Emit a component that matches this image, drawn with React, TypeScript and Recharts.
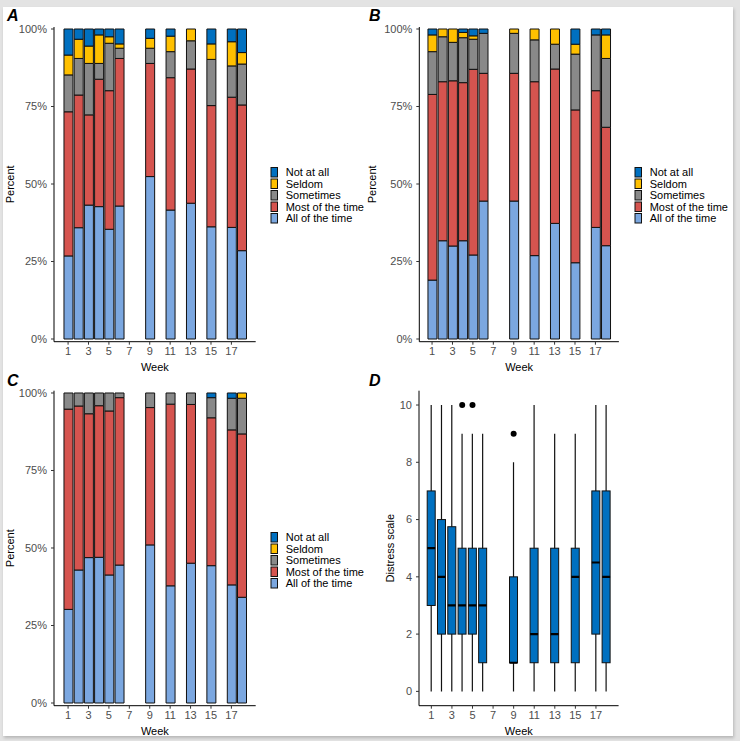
import React from 'react';
import { BarChart, ComposedChart, Bar, Scatter, XAxis, YAxis } from 'recharts';

const weeks = [1, 2, 3, 4, 5, 6, 9, 11, 13, 15, 17, 18];
const weekTicks = [1, 3, 5, 7, 9, 11, 13, 15, 17];
const percentTicks = [0, 25, 50, 75, 100];
const distressTicks = [0, 2, 4, 6, 8, 10];

// legend order (top to bottom) is the reverse of the stack order
const categories = ['All of the time', 'Most of the time', 'Sometimes', 'Seldom', 'Not at all'];
const categoryKeys = ['all', 'most', 'some', 'seldom', 'notAtAll'];
const categoryColors = ['#7BA7E0', '#D5544F', '#898989', '#FFC000', '#0070C0'];

// panel A
const aAll = [26.8, 35.9, 43.2, 42.7, 35.4, 42.9, 52.4, 41.6, 43.8, 36.2, 36.0, 28.5];
const aMost = [46.5, 42.8, 29.1, 41.1, 44.7, 47.6, 36.5, 42.7, 43.3, 39.1, 42.0, 47.0];
const aSome = [11.9, 11.8, 16.6, 5.1, 15.3, 3.3, 4.9, 8.4, 9.1, 14.9, 10.1, 13.2];
const aSeldom = [6.4, 6.2, 5.6, 9.2, 2.1, 1.4, 3.2, 5.0, 3.8, 5.0, 7.8, 3.7];
const aNot = [8.4, 3.3, 5.5, 1.9, 2.5, 4.8, 3.0, 2.3, 0, 4.8, 4.1, 7.6];

// panel B
const bAll = [19.0, 31.7, 30.0, 31.7, 27.1, 44.5, 44.5, 26.9, 37.3, 24.6, 36.0, 30.1];
const bMost = [59.9, 51.3, 53.3, 51.0, 59.9, 41.2, 41.2, 56.1, 49.8, 49.3, 44.1, 38.2];
const bSome = [13.8, 14.5, 12.4, 14.5, 9.7, 12.9, 12.9, 13.5, 8.0, 18.0, 18.0, 22.2];
const bSeldom = [5.4, 2.5, 4.3, 1.7, 1.1, 0, 1.4, 3.5, 4.9, 3.2, 0, 7.6];
const bNot = [1.9, 0, 0, 1.1, 2.2, 1.4, 0, 0, 0, 4.9, 1.9, 1.9];

// panel C
const cAll = [30.2, 42.9, 46.9, 47.0, 41.3, 44.5, 51.0, 37.8, 45.1, 44.3, 38.1, 34.1];
const cMost = [64.6, 52.9, 46.4, 48.9, 52.9, 54.0, 44.3, 58.6, 51.2, 47.7, 50.0, 52.7];
const cSome = [5.2, 4.2, 6.7, 4.1, 5.8, 1.5, 4.7, 3.6, 3.7, 6.5, 10.2, 11.5];
const cSeldom = [0, 0, 0, 0, 0, 0, 0, 0, 0, 0, 0, 1.7];
const cNot = [0, 0, 0, 0, 0, 0, 0, 0, 0, 1.5, 1.7, 0];

// panel D (distress scale box plots)
const dMin = [0, 0, 0, 0, 0, 0, 0, 0, 0, 0, 0, 0];
const dQ1 = [3, 2, 2, 2, 2, 1, 1, 1, 1, 1, 2, 1];
const dMedian = [5, 4, 3, 3, 3, 3, 1, 2, 2, 4, 4.5, 4];
const dQ3 = [7, 6, 5.75, 5, 5, 5, 4, 5, 5, 5, 7, 7];
const dMax = [10, 10, 10, 9, 9, 9, 8, 10, 9, 9, 10, 10];
const outlierWeeks = [4, 5, 9];
const outlierValues = [10, 10, 9];

const FONT = '"Liberation Sans", Arial, sans-serif';
const TICK = { fill: '#4D4D4D', fontSize: 11 };

const buildRows = (series: number[][]) =>
  weeks.map((week, i) => {
    const row: Record<string, number> = { week };
    categoryKeys.forEach((k, j) => {
      row[k] = series[j][i];
    });
    return row;
  });

const rowsA = buildRows([aAll, aMost, aSome, aSeldom, aNot]);
const rowsB = buildRows([bAll, bMost, bSome, bSeldom, bNot]);
const rowsC = buildRows([cAll, cMost, cSome, cSeldom, cNot]);

const boxRows = weeks.map((week, i) => ({
  week,
  range: [dMin[i], dMax[i]],
  q1: dQ1[i],
  median: dMedian[i],
  q3: dQ3[i],
}));
const outliers = outlierWeeks.map((week, i) => ({ week, value: outlierValues[i] }));

// rotated y axis title, centred on the plot height
const yTitle = (text: string, x: number) => (props: any) => {
  const vb = props.viewBox;
  const cy = vb.y + vb.height / 2;
  return (
    <text
      x={x}
      y={cy}
      transform={`rotate(-90 ${x} ${cy})`}
      textAnchor="middle"
      dominantBaseline="central"
      fontSize={11}
      fill="#000"
    >
      {text}
    </text>
  );
};

const StackedPanel = (props: {
  rows: Record<string, number>[];
  left: number;
  top: number;
  width: number;
  height: number;
  marginTop: number;
  marginRight: number;
  yAxisWidth: number;
  xAxisHeight: number;
  xDomain: number[];
  yDomain: number[];
  titleX: number;
  weekOffset: number;
}) => (
  <div style={{ position: 'absolute', left: props.left, top: props.top }}>
    <BarChart
      width={props.width}
      height={props.height}
      data={props.rows}
      margin={{ top: props.marginTop, right: props.marginRight, bottom: 0, left: 0 }}
    >
      <XAxis
        type="number"
        dataKey="week"
        domain={props.xDomain}
        ticks={weekTicks}
        interval={0}
        allowDataOverflow
        height={props.xAxisHeight}
        tick={TICK}
        tickSize={3}
        tickLine={{ stroke: '#333' }}
        axisLine={{ stroke: '#000' }}
        label={{ value: 'Week', position: 'insideBottom', offset: props.weekOffset, fill: '#000', fontSize: 11 }}
      />
      <YAxis
        type="number"
        domain={props.yDomain}
        ticks={percentTicks}
        allowDataOverflow
        width={props.yAxisWidth}
        tick={TICK}
        tickSize={3}
        tickMargin={4}
        tickLine={{ stroke: '#333' }}
        axisLine={{ stroke: '#000' }}
        tickFormatter={(v: number) => `${v}%`}
        label={{ content: yTitle('Percent', props.titleX) }}
      />
      {categoryKeys.map((k, j) => (
        <Bar
          key={k}
          dataKey={k}
          name={categories[j]}
          stackId="a"
          barSize={9}
          fill={categoryColors[j]}
          stroke="#111"
          strokeWidth={1}
          isAnimationActive={false}
        />
      ))}
    </BarChart>
  </div>
);

const LegendBox = ({ left, top }: { left: number; top: number }) => (
  <svg style={{ position: 'absolute', left, top }} width={110} height={62}>
    {categories
      .slice()
      .reverse()
      .map((name, i) => {
        const color = categoryColors[categories.length - 1 - i];
        return (
          <g key={name}>
            <rect x={1} y={i * 11.5 + 1.5} width={6.5} height={9.5} fill={color} stroke="#111" strokeWidth={1} />
            <text x={15.7} y={i * 11.5 + 6.3} dominantBaseline="central" fontSize={11} fill="#000">
              {name}
            </text>
          </g>
        );
      })}
  </svg>
);

const BoxShape = (props: any) => {
  const { x, y, width, height, payload } = props;
  const lo = payload.range[0];
  const hi = payload.range[1];
  const toPx = (v: number) => y + (height * (hi - v)) / (hi - lo);
  const cx = x + width / 2;
  const top = toPx(payload.q3);
  const bottom = toPx(payload.q1);
  const med = toPx(payload.median);
  return (
    <g>
      <line x1={cx} x2={cx} y1={y} y2={y + height} stroke="#111" strokeWidth={1.2} />
      <rect x={x} y={top} width={width} height={bottom - top} fill="#0070C0" stroke="#111" strokeWidth={1} />
      <line x1={x} x2={x + width} y1={med} y2={med} stroke="#000" strokeWidth={2.2} />
    </g>
  );
};

const panelLabel = (text: string, left: number, top: number) => (
  <div
    style={{
      position: 'absolute',
      left,
      top,
      fontSize: 16,
      fontWeight: 'bold',
      fontStyle: 'italic',
      lineHeight: '16px',
      color: '#000',
    }}
  >
    {text}
  </div>
);

export default function App() {
  return (
    <div
      style={{
        position: 'absolute',
        left: 0,
        top: 0,
        width: 740,
        height: 741,
        background: '#e3e3e3',
        overflow: 'hidden',
        fontFamily: FONT,
      }}
    >
      <div
        style={{
          position: 'absolute',
          left: 3,
          top: 7,
          width: 730,
          height: 729,
          background: '#fff',
          boxShadow: '1px 2px 3px rgba(0,0,0,0.2)',
        }}
      />

      <StackedPanel
        rows={rowsA}
        left={0}
        top={0}
        width={362}
        height={375}
        marginTop={27}
        marginRight={106.3}
        yAxisWidth={54}
        xAxisHeight={33.3}
        xDomain={[-0.38, 19.38]}
        yDomain={[-0.87, 100.65]}
        titleX={10.5}
        weekOffset={4}
      />
      <StackedPanel
        rows={rowsB}
        left={362}
        top={0}
        width={378}
        height={375}
        marginTop={27}
        marginRight={121.1}
        yAxisWidth={57.3}
        xAxisHeight={33.3}
        xDomain={[-0.25, 19.3]}
        yDomain={[-0.87, 100.65]}
        titleX={10.5}
        weekOffset={4}
      />
      <StackedPanel
        rows={rowsC}
        left={0}
        top={375}
        width={362}
        height={366}
        marginTop={15.7}
        marginRight={106.3}
        yAxisWidth={54}
        xAxisHeight={35.3}
        xDomain={[-0.38, 19.38]}
        yDomain={[-0.87, 100.74]}
        titleX={10.5}
        weekOffset={6}
      />

      <div style={{ position: 'absolute', left: 368, top: 375 }}>
        <ComposedChart
          width={372}
          height={366}
          data={boxRows}
          margin={{ top: 15.7, right: 121.4, bottom: 0, left: 0 }}
        >
          <XAxis
            type="number"
            dataKey="week"
            domain={[-0.2, 19.2]}
            ticks={weekTicks}
            interval={0}
            allowDataOverflow
            height={35.3}
            tick={TICK}
            tickSize={3}
            tickLine={{ stroke: '#333' }}
            axisLine={{ stroke: '#000' }}
            label={{ value: 'Week', position: 'insideBottom', offset: 6, fill: '#000', fontSize: 11 }}
          />
          <YAxis
            type="number"
            domain={[-0.5, 10.5]}
            ticks={distressTicks}
            allowDataOverflow
            width={51}
            tick={TICK}
            tickSize={3}
            tickMargin={4}
            tickLine={{ stroke: '#333' }}
            axisLine={{ stroke: '#000' }}
            label={{ content: yTitle('Distress scale', 22) }}
          />
          <Bar dataKey="range" barSize={8} shape={BoxShape} isAnimationActive={false} />
          <Scatter
            data={outliers}
            dataKey="value"
            isAnimationActive={false}
            shape={(p: any) => <circle cx={p.cx} cy={p.cy} r={3} fill="#000" />}
          />
        </ComposedChart>
      </div>

      <LegendBox left={270} top={166} />
      <LegendBox left={634.3} top={166} />
      <LegendBox left={270} top={531} />

      {panelLabel('A', 7, 8)}
      {panelLabel('B', 369, 8)}
      {panelLabel('C', 7, 373)}
      {panelLabel('D', 369, 373)}
    </div>
  );
}
